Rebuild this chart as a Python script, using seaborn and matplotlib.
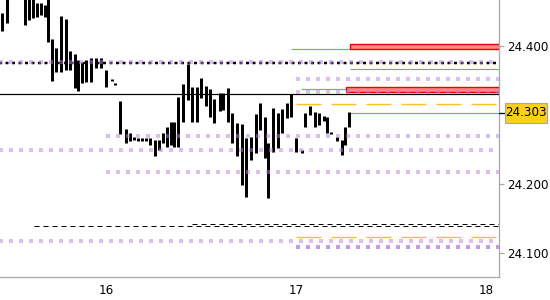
import numpy as np
import pandas as pd
import matplotlib
matplotlib.use("Agg")
import matplotlib.pyplot as plt
import matplotlib.transforms as mtransforms
from matplotlib.patches import Rectangle
import seaborn as sns

# ---------------- data ----------------
bar_time = [15.453, 15.479, 15.574, 15.595, 15.616, 15.637, 15.658, 15.679, 15.695,
            15.716, 15.737, 15.763, 15.789, 15.811, 15.837, 15.853, 15.874, 15.895,
            15.921, 15.947, 15.974, 16.000, 16.032, 16.047, 16.074, 16.105, 16.126,
            16.147, 16.168, 16.189, 16.211, 16.232, 16.258, 16.279, 16.300, 16.321,
            16.342, 16.358, 16.379, 16.405, 16.432, 16.453, 16.479, 16.500, 16.526,
            16.547, 16.568, 16.600, 16.616, 16.642, 16.663, 16.689, 16.716, 16.737,
            16.763, 16.789, 16.811, 16.837, 16.853, 16.879, 16.905, 16.926, 16.953,
            16.974, 17.000, 17.032, 17.047, 17.074, 17.100, 17.121, 17.147, 17.163,
            17.184, 17.216, 17.242, 17.258, 17.279]
bar_high = [24.448, 24.472, 24.472, 24.472, 24.472, 24.462, 24.462, 24.459, 24.472,
            24.410, 24.397, 24.444, 24.439, 24.393, 24.388, 24.380, 24.377, 24.380,
            24.383, 24.383, 24.383, 24.365, 24.352, 24.347, 24.320, 24.280, 24.274,
            24.268, 24.267, 24.267, 24.267, 24.267, 24.264, 24.264, 24.274, 24.283,
            24.290, 24.290, 24.326, 24.345, 24.374, 24.341, 24.341, 24.354, 24.342,
            24.338, 24.323, 24.332, 24.332, 24.339, 24.303, 24.288, 24.287, 24.267,
            24.268, 24.301, 24.317, 24.297, 24.259, 24.310, 24.303, 24.309, 24.317,
            24.330, 24.267, 24.249, 24.303, 24.313, 24.304, 24.303, 24.299, 24.297,
            24.276, 24.268, 24.264, 24.283, 24.304]
bar_low = [24.422, 24.433, 24.430, 24.438, 24.441, 24.442, 24.445, 24.442, 24.406,
           24.349, 24.362, 24.362, 24.365, 24.365, 24.339, 24.335, 24.346, 24.348,
           24.348, 24.368, 24.368, 24.341, 24.349, 24.344, 24.272, 24.259, 24.262,
           24.264, 24.262, 24.262, 24.262, 24.257, 24.241, 24.249, 24.259, 24.254,
           24.257, 24.254, 24.254, 24.290, 24.322, 24.290, 24.290, 24.325, 24.313,
           24.297, 24.288, 24.306, 24.307, 24.290, 24.259, 24.241, 24.199, 24.181,
           24.235, 24.245, 24.278, 24.238, 24.180, 24.246, 24.252, 24.274, 24.296,
           24.297, 24.246, 24.245, 24.283, 24.300, 24.283, 24.286, 24.291, 24.274,
           24.272, 24.262, 24.242, 24.257, 24.283]

purple_levels = [24.377, 24.352, 24.333, 24.270, 24.249, 24.217, 24.117]
purple_start = [15.40, 17.0, 17.0, 16.0, 15.40, 16.0, 15.40]
violet_levels = [24.109]
violet_start = [17.0]
black_dotted_levels = [24.375]
black_solid_levels = [24.330]
black_dashed_levels = [24.139, 24.142]
black_dashed_start = [15.621, 16.453]
orange_levels = [24.316, 24.123]
orange_start = [17.0, 17.0]
green_levels = [24.396, 24.338, 24.367, 24.303]
green_start = [16.974, 17.026, 17.284, 17.284]
green_end = [17.284, 17.263, 18.10, 18.10]
zone_low = [24.396, 24.333]
zone_high = [24.403, 24.341]
zone_start = [17.284, 17.263]
last_price = 24.303
last_label = "24.303"
y_ticks = [24.1, 24.2, 24.4]
y_labels = ["24.100", "24.200", "24.400"]
x_ticks = [16, 17, 18]
x_labels = ["16", "17", "18"]
x_range = (15.442, 18.068)
y_range = (24.0652, 24.4667)

# ---------------- style ----------------
sns.set_style("white")
plt.rcParams['font.family'] = ['DejaVu Sans']
plt.rcParams['lines.scale_dashes'] = False

fig = plt.figure(figsize=(5.5, 3), dpi=100)
ax = fig.add_axes([0, 23 / 300, 499 / 550, 277 / 300])
END = 18.10
PX = 0.72  # points per pixel

def hl(levels, starts, ends, **kw):
    for i, v in enumerate(levels):
        s = starts[i] if starts is not None else 15.40
        e = ends[i] if ends is not None else END
        ax.plot([s, e], [v, v], solid_capstyle='butt', dash_capstyle='butt', **kw)

# OHLC style bars via seaborn
rows = []
for i, (t, h, l) in enumerate(zip(bar_time, bar_high, bar_low)):
    rows.append({"bar": i, "t": t, "price": h})
    rows.append({"bar": i, "t": t, "price": l})
df = pd.DataFrame(rows)

hl(black_dashed_levels, black_dashed_start, None, color='black', lw=1 * PX,
   linestyle=(0, (5 * PX, 4 * PX)), zorder=2)
hl(orange_levels, orange_start, None, color='#ffbe2e', lw=1.4 * PX,
   linestyle=(0, (25 * PX, 10 * PX)), zorder=2)
hl(green_levels, green_start, green_end, color='#5cc45c', lw=1.2 * PX, zorder=2)
hl(black_solid_levels, None, None, color='black', lw=1.2 * PX, zorder=2)
hl(black_dotted_levels, None, None, color='black', lw=2.5 * PX,
   linestyle=(0, (3 * PX, 3.5 * PX)), zorder=2)

for lo, hi, s in zip(zone_low, zone_high, zone_start):
    ax.add_patch(Rectangle((s, lo), END - s, hi - lo, facecolor='#ff6b6b',
                           alpha=0.8, edgecolor='none', zorder=2))
    ax.add_patch(Rectangle((s, lo), END - s, hi - lo, facecolor='none',
                           edgecolor='#ee0000', lw=1.4 * PX, zorder=3))

sns.lineplot(data=df, x="t", y="price", units="bar", estimator=None,
             color='black', lw=3.0 * PX, ax=ax, zorder=4, legend=False)
for ln in ax.get_lines()[-len(bar_time):]:
    ln.set_solid_capstyle('butt')

hl(purple_levels, purple_start, None, color='#b981e1', alpha=0.5, lw=4 * PX,
   linestyle=(0, (4 * PX, 6 * PX)), zorder=5)
hl(violet_levels, violet_start, None, color='#b981e1', alpha=0.8, lw=4 * PX,
   linestyle=(0, (4 * PX, 6 * PX)), zorder=5)

ax.set_xlim(*x_range)
ax.set_ylim(*y_range)
ax.set_xlabel("")
ax.set_ylabel("")

for side in ['left', 'top']:
    ax.spines[side].set_visible(False)
for side in ['right', 'bottom']:
    ax.spines[side].set_visible(True)
    ax.spines[side].set_color('#aaaaaa')
    ax.spines[side].set_linewidth(1.3 * PX)

ax.yaxis.tick_right()
ax.set_yticks(y_ticks)
ax.set_yticklabels(y_labels)
ax.set_xticks(x_ticks)
ax.set_xticklabels(x_labels)
ax.tick_params(axis='y', which='both', direction='out', length=5 * PX, width=1.3 * PX,
               color='#aaaaaa', labelsize=8.6, labelcolor='black', pad=2,
               left=False, right=True)
ax.tick_params(axis='x', direction='out', length=4 * PX, width=1.3 * PX,
               color='#aaaaaa', labelsize=8.6, labelcolor='black', pad=2)

# last price marker
trans = mtransforms.blended_transform_factory(ax.transAxes, ax.transData)
ax.plot([1.0, 505 / 499], [last_price, last_price], color='black', lw=1.3 * PX,
        transform=trans, clip_on=False, zorder=6)
half_h = 10 / 690 * 0.1 * 10
ax.add_patch(Rectangle((505 / 499, last_price - half_h), 42 / 499, 2 * half_h,
                       transform=trans, clip_on=False, facecolor='#fcd01a',
                       edgecolor='#a8a8a8', lw=1.2 * PX, zorder=6))
ax.text(526 / 499, last_price, last_label, transform=trans, ha='center',
        va='center', fontsize=8.6, color='black', zorder=7, clip_on=False)

fig.savefig("out.png", dpi=100)
